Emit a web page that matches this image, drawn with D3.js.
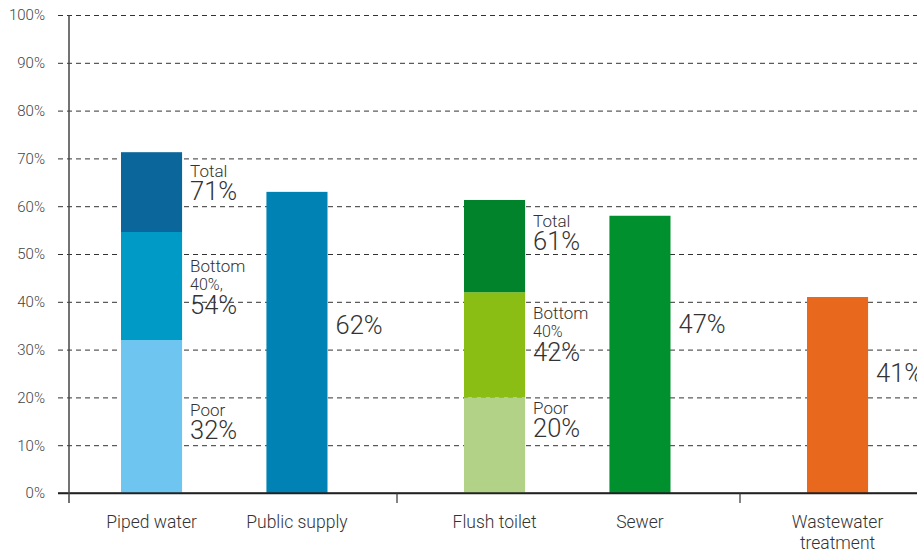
<!DOCTYPE html>
<html>
<head>
<meta charset="utf-8">
<script src="https://cdn.jsdelivr.net/npm/d3@7"></script>
<style>
  body { margin: 0; background: #fff; }
  svg { display: block; font-family: Roboto, "Noto Sans", sans-serif; font-weight: 300; }
</style>
</head>
<body>
<svg id="chart" width="917" height="553"></svg>
<script>
const categories = ["Piped water", "Public supply", "Flush toilet", "Sewer", "Wastewater treatment"];
const categoryLines = [["Piped water"], ["Public supply"], ["Flush toilet"], ["Sewer"], ["Wastewater", "treatment"]];
const groups = ["water", "sanitation", "wastewater"];
const groupOf = ["water", "water", "sanitation", "sanitation", "wastewater"];
const slotOf = [0, 1, 0, 1, 0];

const poorValues = [32, null, 20, null, null];
const bottom40Values = [54.6, null, 42, null, null];
const totalValues = [71.3, 63, 61.3, 58, 41];

const totalLabels = ["71%", "62%", "61%", "47%", "41%"];
const bottom40Labels = ["54%", null, "42%", null, null];
const bottom40Names = ["40%,", null, "40%", null, null];
const poorLabels = ["32%", null, "20%", null, null];

const yTicks = [0, 10, 20, 30, 40, 50, 60, 70, 80, 90, 100];

const COLORS = {
  "Piped water": { poor: "#6ec5f0", bottom: "#009ac6", total: "#0b679b" },
  "Public supply": { total: "#0083b4" },
  "Flush toilet": { poor: "#b1d287", bottom: "#8bbe14", total: "#00832a" },
  "Sewer": { total: "#00902d" },
  "Wastewater treatment": { total: "#e8681e" },
};

// label baseline offsets (px) below the top of each segment
const LABEL_OFFSET = {
  "Piped water": { total: 25, bottom: 40, poor: 76 },
  "Public supply": { total: 142 },
  "Flush toilet": { total: 27, bottom: 27, poor: 17 },
  "Sewer": { total: 117 },
  "Wastewater treatment": { total: 85 },
};

const WIDTH = 917;
const BASE_Y = 493;
const AXIS_X = 69;
const GRID_X0 = 58;

const svg = d3.select("#chart");

const y = d3.scaleLinear().domain([0, 100]).range([BASE_Y, 15]);
const groupX = d3.scaleBand().domain(groups).range([54, 54 + 3 * 343]);
const slotX = d3.scaleBand().domain([0, 1]).range([67, 273.5]).paddingInner(0.58);

const barX = (i) => groupX(groupOf[i]) + slotX(slotOf[i]);

// grid + y tick labels
const yAxis = svg
  .append("g")
  .attr("transform", `translate(${GRID_X0},0)`)
  .call(
    d3.axisLeft(y)
      .tickValues(yTicks)
      .tickSize(-(WIDTH - GRID_X0))
      .tickPadding(13)
      .tickFormat((d) => `${d}%`)
  );

yAxis.select(".domain").remove();
yAxis
  .selectAll(".tick line")
  .attr("stroke", (d) => (d === 0 ? "#222" : "#333"))
  .attr("stroke-width", (d) => (d === 0 ? 1.3 : 1))
  .attr("stroke-dasharray", (d) => (d === 0 ? null : "5,4"));
yAxis
  .selectAll(".tick text")
  .attr("font-family", "Roboto, 'Noto Sans', sans-serif")
  .attr("font-weight", 300)
  .attr("font-size", 15)
  .attr("fill", "#444");

// segments
const segments = [];
categories.forEach((cat, i) => {
  if (poorValues[i] != null) {
    segments.push({ i, cat, key: "poor", y0: 0, y1: poorValues[i] });
    segments.push({ i, cat, key: "bottom", y0: poorValues[i], y1: bottom40Values[i] });
    segments.push({ i, cat, key: "total", y0: bottom40Values[i], y1: totalValues[i] });
  } else {
    segments.push({ i, cat, key: "total", y0: 0, y1: totalValues[i] });
  }
});

svg
  .append("g")
  .selectAll("rect.seg")
  .data(segments)
  .join("rect")
  .attr("class", "seg")
  .attr("x", (d) => barX(d.i))
  .attr("width", slotX.bandwidth())
  .attr("y", (d) => y(d.y1))
  .attr("height", (d) => y(d.y0) - y(d.y1))
  .attr("fill", (d) => COLORS[d.cat][d.key]);

// baseline redraw over bars
svg
  .append("line")
  .attr("x1", GRID_X0)
  .attr("x2", WIDTH)
  .attr("y1", y(0))
  .attr("y2", y(0))
  .attr("stroke", "#222")
  .attr("stroke-width", 1.3);

// y axis line
svg
  .append("line")
  .attr("x1", AXIS_X)
  .attr("x2", AXIS_X)
  .attr("y1", y(100))
  .attr("y2", BASE_Y + 10)
  .attr("stroke", "#444")
  .attr("stroke-width", 1.5);

// group separator ticks
svg
  .append("g")
  .selectAll("line")
  .data(groups.slice(1))
  .join("line")
  .attr("x1", (d) => groupX(d))
  .attr("x2", (d) => groupX(d))
  .attr("y1", BASE_Y)
  .attr("y2", BASE_Y + 10)
  .attr("stroke", "#333")
  .attr("stroke-width", 1.2);

// category labels
const catLabels = svg
  .append("g")
  .selectAll("text")
  .data(categories)
  .join("text")
  .attr("text-anchor", "middle")
  .attr("font-size", 17.5)
  .attr("fill", "#333")
  .attr("transform", (d, i) => `translate(${barX(i) + slotX.bandwidth() / 2},${BASE_Y + 35})`);

catLabels
  .selectAll("tspan")
  .data((d, i) => categoryLines[i])
  .join("tspan")
  .attr("x", 0)
  .attr("dy", (d, j) => (j === 0 ? 0 : 21))
  .text((d) => d);

// value annotations
const annotations = segments.map((s) => {
  const i = s.i;
  let lines;
  if (s.key === "total" && poorValues[i] != null) {
    lines = [{ t: "Total", size: 17, dy: 0 }, { t: totalLabels[i], size: 25.5, dy: 23 }];
  } else if (s.key === "total") {
    lines = [{ t: totalLabels[i], size: 25.5, dy: 0 }];
  } else if (s.key === "bottom") {
    lines = [
      { t: "Bottom", size: 17, dy: 0 },
      { t: bottom40Names[i], size: 16, dy: 18 },
      { t: bottom40Labels[i], size: 25.5, dy: 24 },
    ];
  } else {
    lines = [{ t: "Poor", size: 17, dy: 0 }, { t: poorLabels[i], size: 25.5, dy: 23 }];
  }
  return { ...s, lines };
});

const annGroups = svg
  .append("g")
  .selectAll("text")
  .data(annotations)
  .join("text")
  .attr("fill", "#333")
  .attr("transform", (d) => `translate(${barX(d.i) + slotX.bandwidth() + 8},${y(d.y1) + LABEL_OFFSET[d.cat][d.key]})`);

annGroups
  .selectAll("tspan")
  .data((d) => d.lines)
  .join("tspan")
  .attr("x", 0)
  .attr("dy", (d) => d.dy)
  .attr("font-size", (d) => d.size)
  .text((d) => d.t);
</script>
</body>
</html>
